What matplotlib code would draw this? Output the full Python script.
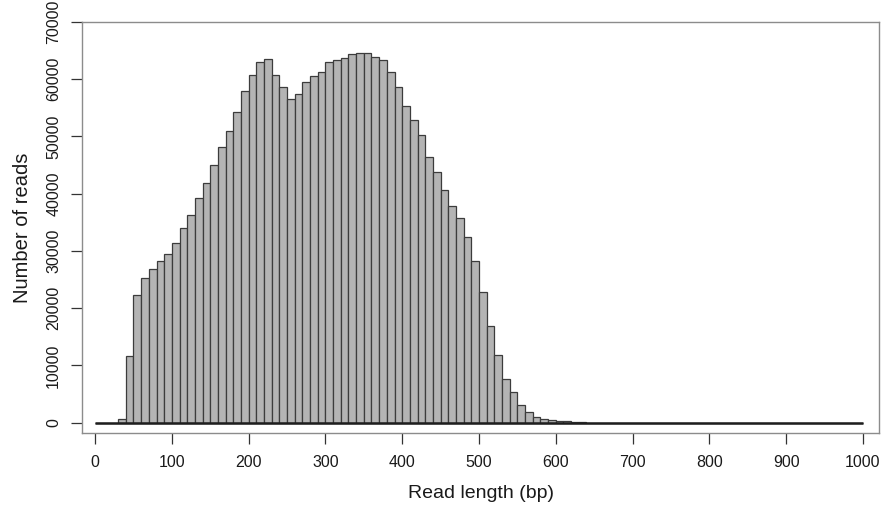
import numpy as np
import matplotlib.pyplot as plt

# histogram of read lengths, 10 bp bins from 0 to 1000
bin_left = np.arange(0, 1000, 10)
counts = [0, 0, 0, 600, 11700, 22300, 25200, 26900, 28300, 29400,
          31400, 34100, 36300, 39300, 41800, 45000, 48200, 50900, 54300, 57900,
          60800, 63000, 63500, 60800, 58600, 56500, 57500, 59500, 60600, 61200,
          63000, 63400, 63800, 64400, 64600, 64600, 63900, 63400, 61300, 58700,
          55400, 52800, 50300, 46400, 43800, 40700, 37900, 35700, 32400, 28200,
          22900, 16900, 11900, 7600, 5400, 3100, 1900, 930, 640, 470,
          350, 290, 170, 60] + [0] * 36
x_ticks = np.arange(0, 1001, 100)
y_ticks = np.arange(0, 70001, 10000)

plt.rcParams['font.family'] = ['Liberation Sans', 'DejaVu Sans']

fig = plt.figure(figsize=(8.82, 5.05), dpi=100)
ax = fig.add_axes([0.093, 0.1426, 0.9036, 0.8138])

ax.bar(bin_left, counts, width=10, align='edge', color='#b4b4b4',
       edgecolor='#3c3c3c', linewidth=0.9)
# baseline of the histogram (zero-count bins show up as a flat line)
ax.hlines(0, bin_left[0], bin_left[-1] + 10, color='#1e1e1e', linewidth=1.8)

ax.set_xlim(-17, 1021)
ax.set_ylim(-1800, 70000)
ax.set_xticks(x_ticks)
ax.set_yticks(y_ticks)
ax.set_yticklabels([str(v) for v in y_ticks], rotation=90, va='center',
                   family=['Liberation Sans Narrow', 'Liberation Sans'])

for s in ax.spines.values():
    s.set_color('#8c8c8c')
    s.set_linewidth(1.0)

ax.tick_params(axis='both', direction='out', length=8, width=0.9,
               color='#333333', labelsize=11.5, labelcolor='#1a1a1a')
ax.tick_params(axis='x', pad=8)
ax.tick_params(axis='y', pad=7)

ax.set_xlabel('Read length (bp)', fontsize=14, color='#1a1a1a', labelpad=11)
ax.set_ylabel('Number of reads', fontsize=14.5, color='#1a1a1a', labelpad=10)

fig.savefig('out.png', dpi=100)
